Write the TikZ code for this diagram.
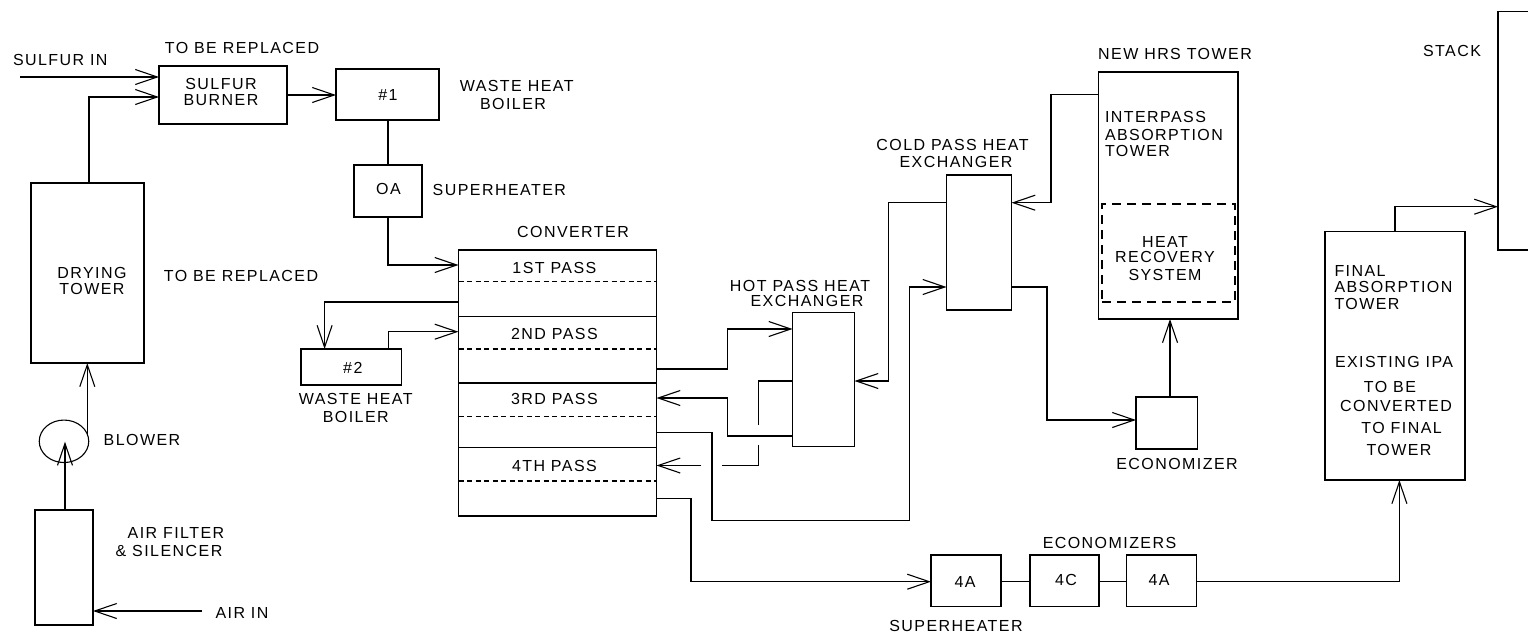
\documentclass[tikz,border=0pt]{standalone}
\usepackage{fontspec}
\setmainfont[LetterSpace=9]{Liberation Sans}
\usetikzlibrary{arrows.meta,shapes.geometric}
\tikzset{
  boxnode/.style={draw=black,line width=1.1pt,rectangle,inner sep=0pt,outer sep=0pt,anchor=north west},
  flow/.style={draw=black,line width=1.1pt,-{Straight Barb[length=22pt,width=15pt,line width=1.1pt]}},
  link/.style={draw=black,line width=1.1pt},
  lbl/.style={font=\fontsize{16}{16}\selectfont,text=black,inner sep=0pt,outer sep=0pt,align=center,text height=11.5pt,text depth=0pt},
  lleft/.style={lbl,anchor=west},
  divider/.style={draw=black,line width=1.1pt,dash pattern=on 5pt off 3.5pt},
}
\begin{document}
\begin{tikzpicture}[x=1pt,y=-1pt]
\useasboundingbox (0,0) rectangle (1528,635);
\fill[white] (0,0) rectangle (1528,635);
% boxes
\node[boxnode,minimum width=128pt,minimum height=58pt] (burner) at (159,66) {};
\node[boxnode,minimum width=103pt,minimum height=51pt] (wb1) at (336,69) {};
\node[boxnode,minimum width=68pt,minimum height=52pt] (oa) at (354,165) {};
\node[boxnode,minimum width=113pt,minimum height=180pt] (dry) at (31,183) {};
\node[boxnode,minimum width=58pt,minimum height=115pt] (filter) at (35,510) {};
\node[draw=black,line width=1.1pt,ellipse,inner sep=0pt,minimum width=49.5pt,minimum height=42.5pt] (blower) at (64,441.3) {};
\node[boxnode,minimum width=198pt,minimum height=266pt] (conv) at (458.5,250) {};
\node[boxnode,minimum width=100.5pt,minimum height=36pt] (wb2) at (301,349) {};
\node[boxnode,minimum width=62pt,minimum height=134pt] (hot) at (792.5,312.7) {};
\node[boxnode,minimum width=65pt,minimum height=135pt] (cold) at (946.5,175) {};
\node[boxnode,minimum width=139.5pt,minimum height=247pt] (hrs) at (1098.5,72) {};
\node[boxnode,minimum width=61.5pt,minimum height=52pt] (econ) at (1136,397) {};
\node[boxnode,minimum width=140pt,minimum height=248.3pt] (final) at (1325,231.7) {};
\node[boxnode,minimum width=70pt,minimum height=51.7pt] (sa) at (931,555) {};
\node[boxnode,minimum width=69pt,minimum height=51.7pt] (ec) at (1030,555) {};
\node[boxnode,minimum width=69.5pt,minimum height=51.7pt] (ea) at (1126.7,555) {};
\node[boxnode,draw=none,minimum width=40pt,minimum height=238.3pt] (stack) at (1498,11.7) {};
\draw[link] (stack.north east) -- (stack.north west) -- (stack.south west) -- (stack.south east);
\node[boxnode,draw=black,line width=1.1pt,dash pattern=on 9pt off 6pt,minimum width=133pt,minimum height=98pt] (hrsbox) at (1102,204) {};
% converter dividers
\coordinate (c12) at (0,316.7); \coordinate (c23) at (0,383); \coordinate (c34) at (0,447.7);
\draw[link] (conv.west |- c12) -- (conv.east |- c12);
\draw[link] (conv.west |- c23) -- (conv.east |- c23);
\draw[link] (conv.west |- c34) -- (conv.east |- c34);
\coordinate (d1) at (0,281.7); \coordinate (d2) at (0,349); \coordinate (d3) at (0,416.7); \coordinate (d4) at (0,481);
\draw[divider] (conv.west |- d1) -- (conv.east |- d1);
\draw[divider] (conv.west |- d2) -- (conv.east |- d2);
\draw[divider] (conv.west |- d3) -- (conv.east |- d3);
\draw[divider] (conv.west |- d4) -- (conv.east |- d4);
% connectors
\coordinate (sin) at (20,77);
\draw[flow] (sin) -- (sin -| burner.west);
\coordinate (dryout) at (89,97);
\draw[flow] (dryout |- dry.north) -- (dryout) -- (dryout -| burner.west);
\coordinate (bo) at (0,95);
\draw[flow] (burner.east |- bo) -- (wb1.west |- bo);
\coordinate (oax) at (388,265);
\draw[link] (wb1.south -| oax) -- (oa.north -| oax);
\draw[flow] (oa.south -| oax) -- (oax) -- (conv.west |- oax);
\coordinate (p1) at (324.6,302);
\draw[flow] (conv.west |- p1) -- (p1) -- (p1 |- wb2.north);
\coordinate (p2) at (388.6,331.7);
\draw[flow] (p2 |- wb2.north) -- (p2) -- (conv.west |- p2);
\coordinate (h1) at (727.8,369); \coordinate (h2) at (727.8,329);
\draw[flow] (conv.east |- h1) -- (h1) -- (h2) -- (hot.west |- h2);
\coordinate (h3) at (727.4,436); \coordinate (h4) at (727.4,398);
\draw[flow] (hot.west |- h3) -- (h3) -- (h4) -- (conv.east |- h4);
\coordinate (j1) at (758.5,381); \coordinate (j2) at (758.5,425); \coordinate (j3) at (758.5,445); \coordinate (j4) at (758.5,465.5); \coordinate (j5) at (722,465.5); \coordinate (j6) at (701,465.5);
\draw[link] (hot.west |- j1) -- (j1) -- (j2);
\draw[link] (j3) -- (j4) -- (j5);
\draw[flow] (j6) -- (conv.east |- j6);
\coordinate (k1) at (712,432.7); \coordinate (k2) at (712,520.7); \coordinate (k3) at (909.5,520.7); \coordinate (k4) at (909.5,287);
\draw[flow] (conv.east |- k1) -- (k1) -- (k2) -- (k3) -- (k4) -- (cold.west |- k4);
\coordinate (m1) at (888.5,202.7); \coordinate (m2) at (888.5,381);
\draw[flow] (cold.west |- m1) -- (m1) -- (m2) -- (hot.east |- m2);
\coordinate (n1) at (1047,287); \coordinate (n2) at (1047,420);
\draw[flow] (cold.east |- n1) -- (n1) -- (n2) -- (econ.west |- n2);
\coordinate (q) at (1170,0);
\draw[flow] (econ.north -| q) -- (hrs.south -| q);
\coordinate (r1) at (1051,94.3); \coordinate (r2) at (1051,202.7);
\draw[flow] (hrs.west |- r1) -- (r1) -- (r2) -- (cold.east |- r2);
\coordinate (s1) at (1395,206.7);
\draw[flow] (final.north -| s1) -- (s1) -- (stack.west |- s1);
\coordinate (t1) at (691,498.7); \coordinate (t2) at (691,581.7);
\draw[flow] (conv.east |- t1) -- (t1) -- (t2) -- (sa.west |- t2);
\draw[link] (sa.east |- t2) -- (ec.west |- t2);
\draw[link] (ec.east |- t2) -- (ea.west |- t2);
\coordinate (u) at (1399.4,581.7);
\draw[flow] (ea.east |- u) -- (u) -- (u |- final.south);
\coordinate (v) at (65,441.7);
\draw[flow] (filter.north -| v) -- (v);
\coordinate (w) at (87.3,436);
\draw[flow] (w) -- (w |- dry.south);
\coordinate (airin) at (202,611);
\draw[flow] (airin) -- (airin -| filter.east);
% labels
\node[lleft] (l1) at (13,60) {SULFUR IN};
\node[lbl] (l2) at (242,48) {TO BE REPLACED};
\node[lbl] (l3) at (221,84) {SULFUR};
\node[lbl] (l4) at (221,100) {BURNER};
\node[lbl] (l5) at (388,95) {\#1};
\node[lbl] (l6) at (388.5,189) {OA};
\node[lbl] (l7) at (516.7,85.7) {WASTE HEAT};
\node[lbl] (l8) at (513,104) {BOILER};
\node[lleft] (l9) at (432.7,190) {SUPERHEATER};
\node[lbl] (l10) at (92,273) {DRYING};
\node[lbl] (l11) at (92,289) {TOWER};
\node[lbl] (l12) at (241,276) {TO BE REPLACED};
\node[lbl] (l13) at (573,232) {CONVERTER};
\node[lbl] (l14) at (554.4,268) {1ST PASS};
\node[lbl] (l15) at (554.4,333.7) {2ND PASS};
\node[lbl] (l16) at (554.4,399) {3RD PASS};
\node[lbl] (l17) at (554.4,465.7) {4TH PASS};
\node[lbl] (l18) at (352.8,367.7) {\#2};
\node[lbl] (l19) at (355.8,399) {WASTE HEAT};
\node[lbl] (l20) at (355.8,417) {BOILER};
\node[lbl] (l21) at (800,285.7) {HOT PASS HEAT};
\node[lbl] (l22) at (807,301) {EXCHANGER};
\node[lbl] (l23) at (952.5,145) {COLD PASS HEAT};
\node[lbl] (l24) at (956,161.7) {EXCHANGER};
\node[lbl] (l25) at (1175,54) {NEW HRS TOWER};
\node[lleft] (l26) at (1105,117) {INTERPASS};
\node[lleft] (l27) at (1105,135) {ABSORPTION};
\node[lleft] (l28) at (1105,150.7) {TOWER};
\node[lbl] (l29) at (1165,241.7) {HEAT};
\node[lbl] (l30) at (1165,257) {RECOVERY};
\node[lbl] (l31) at (1165,275) {SYSTEM};
\node[lbl] (l32) at (1452,50.7) {STACK};
\node[lleft] (l33) at (1334.5,270.7) {FINAL};
\node[lleft] (l34) at (1334.5,287) {ABSORPTION};
\node[lleft] (l35) at (1334.5,304) {TOWER};
\node[lleft] (l36) at (1335,361.7) {EXISTING IPA};
\node[lbl] (l37) at (1390,387) {TO BE};
\node[lbl] (l38) at (1396,406) {CONVERTED};
\node[lbl] (l39) at (1401.6,428) {TO FINAL};
\node[lbl] (l40) at (1399,450) {TOWER};
\node[lbl] (l41) at (1177,464) {ECONOMIZER};
\node[lbl] (l42) at (1109.5,542.7) {ECONOMIZERS};
\node[lbl] (l43) at (956,625.7) {SUPERHEATER};
\node[lbl] (l44) at (965,581.7) {4A};
\node[lbl] (l45) at (1066,579.5) {4C};
\node[lbl] (l46) at (1159,580) {4A};
\node[lbl] (l47) at (142,440) {BLOWER};
\node[lbl] (l48) at (176,532.7) {AIR FILTER};
\node[lbl] (l49) at (169,550.7) {\& SILENCER};
\node[lbl] (l50) at (242,612.7) {AIR IN};
\end{tikzpicture}
\end{document}
